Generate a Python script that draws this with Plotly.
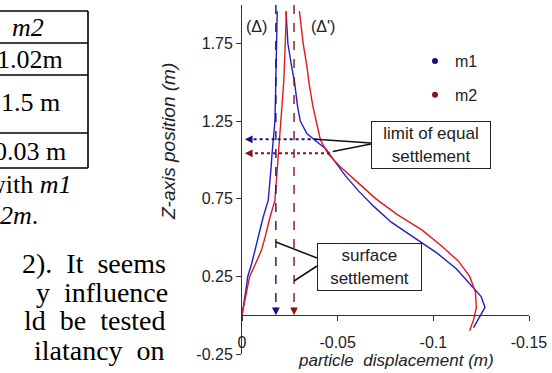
import plotly.graph_objects as go

W, H = 552, 373

# ---------------- data ----------------
# m1, curve (Δ)
m1_delta_z = [0.0, 0.05, 0.12, 0.2, 0.25, 0.33, 0.42, 0.5, 0.63, 0.74, 0.84, 0.95, 1.04, 1.15, 1.25, 1.4, 1.5, 1.65, 1.75, 1.85, 1.96]
m1_delta_x = [0.0, -0.0005, -0.0015, -0.0025, -0.003, -0.005, -0.0068, -0.0085, -0.011, -0.0137, -0.0145, -0.0152, -0.0157, -0.0165, -0.0172, -0.0175, -0.0177, -0.0178, -0.018, -0.0182, -0.0184]
# m1, curve (Δ')
m1_dprime_z = [1.96, 1.85, 1.75, 1.6, 1.5, 1.35, 1.25, 1.17, 1.13, 1.07, 1.0, 0.9, 0.8, 0.7, 0.6, 0.5, 0.4, 0.3, 0.2, 0.12, 0.05, -0.02, -0.08]
m1_dprime_x = [-0.023, -0.0235, -0.024, -0.026, -0.0275, -0.029, -0.0305, -0.034, -0.038, -0.044, -0.048, -0.054, -0.061, -0.069, -0.078, -0.090, -0.102, -0.112, -0.119, -0.125, -0.127, -0.124, -0.121]
# m2, curve (Δ)
m2_delta_z = [0.0, 0.05, 0.12, 0.2, 0.25, 0.33, 0.42, 0.5, 0.63, 0.74, 0.84, 0.95, 1.04, 1.15, 1.25, 1.4, 1.5, 1.65, 1.75, 1.85, 1.96]
m2_delta_x = [0.0, -0.0008, -0.002, -0.003, -0.004, -0.007, -0.0102, -0.012, -0.0146, -0.0172, -0.0178, -0.0185, -0.019, -0.0197, -0.0205, -0.0213, -0.0218, -0.0223, -0.0226, -0.0229, -0.0232]
# m2, curve (Δ')
m2_dprime_z = [1.96, 1.85, 1.75, 1.6, 1.5, 1.35, 1.25, 1.13, 1.04, 0.95, 0.85, 0.75, 0.65, 0.55, 0.45, 0.35, 0.25, 0.15, 0.05, -0.03, -0.1]
m2_dprime_x = [-0.030, -0.031, -0.032, -0.034, -0.035, -0.037, -0.039, -0.041, -0.045, -0.052, -0.061, -0.070, -0.081, -0.094, -0.104, -0.113, -0.119, -0.122, -0.1225, -0.121, -0.119]

surface_settlement_m1 = -0.0177
surface_settlement_m2 = -0.0272
limit_height_m1 = 1.134
limit_height_m2 = 1.044
limit_x_m1 = -0.039
limit_x_m2 = -0.046

x_tickvals = [0, -0.05, -0.1, -0.15]
x_ticktext = ["0", "-0.05", "-0.1", "-0.15"]
y_tickvals = [-0.25, 0.25, 0.75, 1.25, 1.75]
y_ticktext = ["-0.25", "0.25", "0.75", "1.25", "1.75"]
series_names = ["m1", "m2"]

# ---------------- layout geometry ----------------
PX0, PX1 = 242, 529      # plot area left/right (px)
PY0, PY1 = 5, 354        # plot area top/bottom (px)
XR = [0, -0.15]
YR = [-0.25, 2.0]

def fx(px):  # paper x
    return px / W

def fy(py):  # paper y
    return 1 - py / H

def dx(px):  # data x from pixel
    return XR[0] + (px - PX0) / (PX1 - PX0) * (XR[1] - XR[0])

def dy(py):  # data y from pixel
    return YR[1] - (py - PY0) / (PY1 - PY0) * (YR[1] - YR[0])

BLUE = "#1f1fc8"
RED = "#e01a1a"
NAVY = "#14147e"
DRED = "#8a1414"
AX = "#333333"
SANS = "Liberation Sans, Arial, sans-serif"
SERIF = "Liberation Serif, Times New Roman, serif"

fig = go.Figure()

def join(a_x, a_z, b_x, b_z):
    return list(a_x) + [None] + list(b_x), list(a_z) + [None] + list(b_z)

x1, z1 = join(m1_delta_x, m1_delta_z, m1_dprime_x, m1_dprime_z)
x2, z2 = join(m2_delta_x, m2_delta_z, m2_dprime_x, m2_dprime_z)

fig.add_trace(go.Scatter(x=x1, y=z1, mode="lines", line=dict(color=BLUE, width=1.4),
                         showlegend=False, connectgaps=False))
fig.add_trace(go.Scatter(x=x2, y=z2, mode="lines", line=dict(color=RED, width=1.4),
                         showlegend=False, connectgaps=False))
# legend entries
fig.add_trace(go.Scatter(x=[None], y=[None], mode="markers", name=series_names[0],
                         marker=dict(color=NAVY, size=6), legendgroup="a"))
fig.add_trace(go.Scatter(x=[None], y=[None], mode="markers", name=series_names[1],
                         marker=dict(color=DRED, size=6), legendgroup="b"))

shapes = []
annotations = []

def ann(px, py, text, font, xanchor="center", yanchor="middle", **kw):
    d = dict(xref="paper", yref="paper", x=fx(px), y=fy(py), text=text, showarrow=False,
             font=font, xanchor=xanchor, yanchor=yanchor)
    d.update(kw)
    return d

# surface settlement dashed arrows
for v, col in [(surface_settlement_m1, NAVY), (surface_settlement_m2, DRED)]:
    shapes.append(dict(type="line", xref="x", yref="y", x0=v, x1=v, y0=YR[1], y1=0.03,
                       line=dict(color=col, width=1.4, dash="dash")))
    annotations.append(dict(xref="x", yref="y", axref="x", ayref="y", x=v, y=0, ax=v, ay=0.06,
                            text="", showarrow=True, arrowhead=2, arrowsize=1.1, arrowwidth=1.4,
                            arrowcolor=col))
# limit of equal settlement dotted arrows
for h, xe, col in [(limit_height_m1, limit_x_m1, NAVY), (limit_height_m2, limit_x_m2, DRED)]:
    shapes.append(dict(type="line", xref="x", yref="y", x0=xe, x1=-0.003, y0=h, y1=h,
                       line=dict(color=col, width=2, dash="dot")))
    annotations.append(dict(xref="x", yref="y", axref="x", ayref="y", x=-0.0015, y=h, ax=-0.006, ay=h,
                            text="", showarrow=True, arrowhead=2, arrowsize=1.1, arrowwidth=1.4,
                            arrowcolor=col))

# connectors
conn = [
    ((371, 143), (limit_x_m1 + 0.0005, limit_height_m1)),
    ((371, 144), (limit_x_m2 - 0.0015, limit_height_m2 + 0.012)),
    ((317, 258), (surface_settlement_m1, dy(242))),
    ((317, 266), (surface_settlement_m2, dy(281))),
]
for (bx, by), (tx, ty) in conn:
    shapes.append(dict(type="line", xref="x", yref="y", x0=dx(bx), y0=dy(by), x1=tx, y1=ty,
                       line=dict(color="#111111", width=1.5)))

sf = dict(family=SANS, size=16, color="#222")
bf = dict(family=SANS, size=17, color="#222")
# text boxes
annotations.append(ann(431, 145, "limit of equal<br>settlement", bf,
                       bordercolor="#222", borderwidth=1, borderpad=3, bgcolor="white",
                       width=112, height=40, align="center"))
annotations.append(ann(369.5, 267, "surface<br>settlement", bf,
                       bordercolor="#222", borderwidth=1, borderpad=3, bgcolor="white",
                       width=97, height=40, align="center"))
# (Δ) labels
annotations.append(ann(256, 26, "(Δ)", sf))
annotations.append(ann(323, 26, "(Δ')", sf))
# axis titles
annotations.append(ann(396, 360, "<i>particle  displacement (m)</i>", dict(family=SANS, size=17, color="#222")))
annotations.append(ann(168, 142, "<i>Z-axis position (m)</i>", dict(family=SANS, size=19, color="#222"), textangle=-90))

# ---------------- left: fragment of the page text ----------------
tf = dict(family=SERIF, size=26, color="#000")
pf = dict(family=SERIF, size=28, color="#000")
annotations += [
    ann(28, 27, "<i>m2</i>", tf),
    ann(30, 59, "1.02m", tf),
    ann(30, 103, "1.5 m", tf),
    ann(30, 151, "0.03 m", tf),
    ann(74, 184, "with <i>m1</i>", tf, xanchor="right"),
    ann(40, 215, "<i>2m</i>.", tf, xanchor="right"),
    ann(168, 263, "2).  It  seems", pf, xanchor="right"),
    ann(170, 292, "y  influence", pf, xanchor="right"),
    ann(168, 320, "ld  be  tested", pf, xanchor="right"),
    ann(167, 350, "ilatancy  on", pf, xanchor="right"),
]
for yl in [11, 43, 75, 133, 168]:
    shapes.append(dict(type="line", xref="paper", yref="paper", x0=fx(-2), x1=fx(88), y0=fy(yl), y1=fy(yl),
                       line=dict(color="#000", width=1.6)))
shapes.append(dict(type="line", xref="paper", yref="paper", x0=fx(88), x1=fx(88), y0=fy(11), y1=fy(168),
                   line=dict(color="#000", width=1.6)))

yd0, yd1 = fy(PY1), fy(PY0)
x_axis_pos = yd0 + (0 - YR[0]) / (YR[1] - YR[0]) * (yd1 - yd0)

fig.update_layout(
    width=W, height=H,
    margin=dict(l=0, r=0, t=0, b=0),
    paper_bgcolor="white", plot_bgcolor="white",
    showlegend=True,
    legend=dict(x=fx(415), y=fy(44), xanchor="left", yanchor="top", bgcolor="rgba(0,0,0,0)",
                font=dict(family=SANS, size=16, color="#222"), tracegroupgap=10, itemwidth=30),
    xaxis=dict(domain=[fx(PX0), fx(PX1)], range=XR, anchor="free", position=x_axis_pos,
               showline=True, linecolor=AX, linewidth=1, ticks="outside", ticklen=5, tickcolor=AX,
               tickvals=x_tickvals, ticktext=x_ticktext, showgrid=False, zeroline=False,
               tickfont=dict(family=SANS, size=16, color="#222"), ticklabelstandoff=8, automargin=False),
    yaxis=dict(domain=[yd0, yd1], range=YR, anchor="x", showline=True, linecolor=AX, linewidth=1,
               ticks="outside", ticklen=5, tickcolor=AX, tickvals=y_tickvals, ticktext=y_ticktext,
               showgrid=False, zeroline=False, tickfont=dict(family=SANS, size=16, color="#222"),
               automargin=False),
    shapes=shapes,
    annotations=annotations,
)

fig.write_html("out.html")
